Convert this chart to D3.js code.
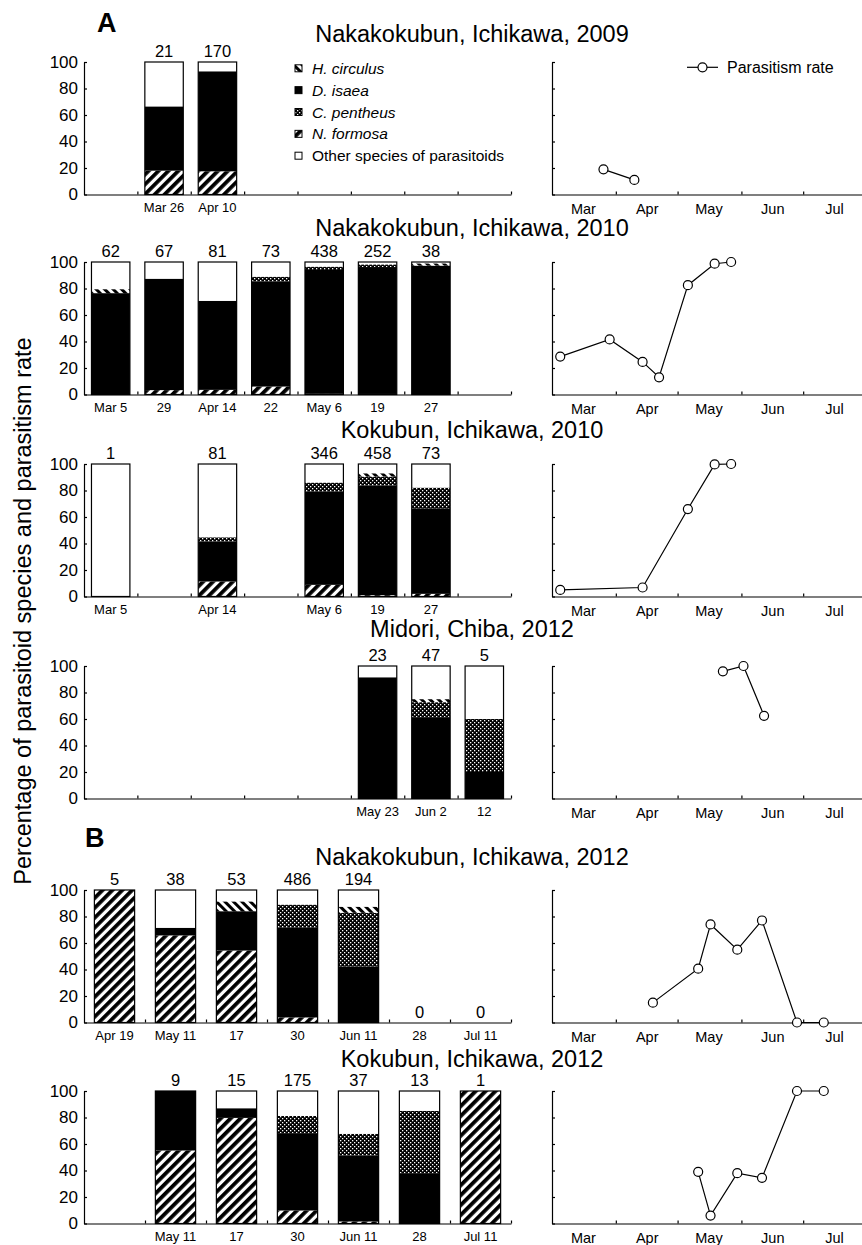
<!DOCTYPE html>
<html>
<head>
<meta charset="utf-8">
<script src="https://cdn.jsdelivr.net/npm/d3@7"></script>
<style>
  body { margin: 0; background: #fff; }
  text { font-family: "Liberation Sans", Arial, sans-serif; fill: #000; }
</style>
</head>
<body>
<svg id="chart" width="862" height="1245"></svg>
<script>
// ---- data ----
var panelTitles = [
	"Nakakokubun, Ichikawa, 2009",
	"Nakakokubun, Ichikawa, 2010",
	"Kokubun, Ichikawa, 2010",
	"Midori, Chiba, 2012",
	"Nakakokubun, Ichikawa, 2012",
	"Kokubun, Ichikawa, 2012"
];

var speciesNames = ["N. formosa", "D. isaea", "C. pentheus", "H. circulus", "Other species of parasitoids"];

// sampling slots of the bar charts ("" = empty slot)
var barLabels = [
	["", "Mar 26", "Apr 10", "", "", "", "", ""],
	["Mar 5", "29", "Apr 14", "22", "May 6", "19", "27", ""],
	["Mar 5", "", "Apr 14", "", "May 6", "19", "27", ""],
	["", "", "", "", "", "May 23", "Jun 2", "12"],
	["Apr 19", "May 11", "17", "30", "Jun 11", "28", "Jul 11"],
	["", "May 11", "17", "30", "Jun 11", "28", "Jul 11"]
];

// number of parasitoids above each bar
var barCounts = [
	[null, 21, 170, null, null, null, null, null],
	[62, 67, 81, 73, 438, 252, 38, null],
	[1, null, 81, null, 346, 458, 73, null],
	[null, null, null, null, null, 23, 47, 5],
	[5, 38, 53, 486, 194, 0, 0],
	[null, 9, 15, 175, 37, 13, 1]
];

// % per bar: N. formosa, D. isaea, C. pentheus, H. circulus, other
var compNak09 = [null, [18, 48.5, 0, 0, 33.5], [17.5, 75.5, 0, 0, 7], null, null, null, null, null];
var compNak10 = [[0, 76.5, 0, 3, 20.5], [3.3, 84.1, 0, 0, 12.6], [3.5, 67.2, 0, 0, 29.3], [6, 79.4, 3.5, 0, 11.1],
	[0.5, 93.5, 2.5, 0, 3.5], [0.4, 95.8, 2, 0, 1.8], [0, 97.3, 0, 1.7, 1], null];
var compKok10 = [[0, 0, 0, 0, 100], null, [11.3, 30.2, 3.2, 0, 55.3], null, [8.8, 70.3, 6.9, 0, 14],
	[1, 82.7, 6.8, 2.5, 7], [2, 64.6, 15.6, 0, 17.8], null];
var compMid12 = [null, null, null, null, null, [0, 91.5, 0, 0, 8.5], [0, 61.4, 11.3, 2.3, 25], [0, 20, 40, 0, 40]];
var compNak12 = [[100, 0, 0, 0, 0], [65.7, 5.8, 0, 0, 28.5], [54.3, 29.7, 0, 7.4, 8.6], [3.8, 67.7, 17.5, 0, 11],
	[0, 42.4, 40.4, 4.6, 12.6], null, null];
var compKok12 = [null, [55.1, 44.9, 0, 0, 0], [79.7, 7.3, 0, 0, 13], [9.8, 58.4, 13, 0, 18.8],
	[1.5, 49.9, 16.3, 0, 32.3], [0, 38, 47, 0, 15], [100, 0, 0, 0, 0]];
var compositions = [compNak09, compNak10, compKok10, compMid12, compNak12, compKok12];

// parasitism rate (%)
var rateDates = [
	["Mar 26", "Apr 10"],
	["Mar 5", "Mar 29", "Apr 14", "Apr 22", "May 6", "May 19", "May 27"],
	["Mar 5", "Apr 14", "May 6", "May 19", "May 27"],
	["May 23", "Jun 2", "Jun 12"],
	["Apr 19", "May 11", "May 17", "May 30", "Jun 11", "Jun 28", "Jul 11"],
	["May 11", "May 17", "May 30", "Jun 11", "Jun 28", "Jul 11"]
];
var rates = [
	[19, 11],
	[28.6, 41.6, 24.6, 13, 82.5, 98.7, 100],
	[5, 6.8, 66, 99.7, 100],
	[96, 100, 62.4],
	[15, 40.6, 74, 55, 77, 0, 0],
	[39, 6, 38, 34.5, 100, 100]
];

var monthStarts = ["Apr 1", "May 1", "Jun 1", "Jul 1", "Aug 1"];
var monthMids = ["Mar 16", "Apr 16", "May 16", "Jun 16", "Jul 16"];
var yTicks = [0, 20, 40, 60, 80, 100];

// ---- layout ----
var plotTop = [62, 262, 464, 666, 890, 1091],
	plotH = 132.5,
	titleY = [42, 236, 438, 637, 865, 1067],
	barX = [84, 511],
	rateX = [552, 867];

var parseDay = d3.timeParse("%b %d");
var svg = d3.select("#chart");
var fills = ["url(#pNF)", "#000", "url(#pCP)", "url(#pHC)", "#fff"];

// patterns
var defs = svg.append("defs");
var pNF = defs.append("pattern").attr("id", "pNF").attr("patternUnits", "userSpaceOnUse")
	.attr("width", 7).attr("height", 7).attr("patternTransform", "rotate(45)");
pNF.append("rect").attr("width", 7).attr("height", 7).attr("fill", "#fff");
pNF.append("rect").attr("width", 3.8).attr("height", 7).attr("fill", "#000");

var pHC = defs.append("pattern").attr("id", "pHC").attr("patternUnits", "userSpaceOnUse")
	.attr("width", 6).attr("height", 6).attr("patternTransform", "rotate(-45)");
pHC.append("rect").attr("width", 6).attr("height", 6).attr("fill", "#fff");
pHC.append("rect").attr("width", 3).attr("height", 6).attr("fill", "#000");

var pCP = defs.append("pattern").attr("id", "pCP").attr("patternUnits", "userSpaceOnUse")
	.attr("width", 4).attr("height", 4);
pCP.append("rect").attr("width", 4).attr("height", 4).attr("fill", "#000");
pCP.append("rect").attr("width", 1.3).attr("height", 1.3).attr("fill", "#fff");
pCP.append("rect").attr("x", 2).attr("y", 2).attr("width", 1.3).attr("height", 1.3).attr("fill", "#fff");

function styleAxis(sel, size) {
	sel.attr("font-family", null).attr("font-size", null);
	sel.selectAll("path, line").attr("stroke", "#000").attr("stroke-width", 1.2);
	sel.selectAll("text").style("font-size", size + "px");
}

panelTitles.forEach(function(title, i) {
	var g = svg.append("g");
	var y = d3.scaleLinear().domain([0, 100]).range([plotTop[i] + plotH, plotTop[i]]);
	var n = barLabels[i].length;
	var pad = n === 8 ? 0.28 : 0.34;
	var x = d3.scaleBand().domain(d3.range(n)).range(barX).paddingInner(pad).paddingOuter(pad / 2);
	var xs = d3.scaleLinear().domain([0, n]).range(barX);

	g.append("text").attr("x", 472).attr("y", titleY[i]).attr("text-anchor", "middle")
		.style("font-size", "23.5px").text(title);

	// stacked bars
	var rows = [];
	compositions[i].forEach(function(c, j) {
		if (c) rows.push({ slot: j, v: c });
	});
	var stack = d3.stack().keys(d3.range(5)).value(function(d, k) { return d.v[k]; });
	var series = stack(rows);

	g.selectAll("g.layer")
		.data(series)
		.enter().append("g")
		.attr("class", "layer")
		.attr("fill", function(d) { return fills[d.key]; })
		.selectAll("rect")
		.data(function(d) { return d; })
		.enter().append("rect")
		.attr("x", function(d) { return x(d.data.slot); })
		.attr("width", x.bandwidth())
		.attr("y", function(d) { return y(d[1]); })
		.attr("height", function(d) { return y(d[0]) - y(d[1]); });

	g.selectAll("rect.outline")
		.data(rows)
		.enter().append("rect")
		.attr("class", "outline")
		.attr("x", function(d) { return x(d.slot); })
		.attr("width", x.bandwidth())
		.attr("y", y(100))
		.attr("height", y(0) - y(100))
		.attr("fill", "none")
		.attr("stroke", "#000")
		.attr("stroke-width", 1.2);

	g.selectAll("text.count")
		.data(barCounts[i].map(function(c, j) { return { slot: j, n: c }; })
			.filter(function(d) { return d.n !== null; }))
		.enter().append("text")
		.attr("class", "count")
		.attr("x", function(d) { return x(d.slot) + x.bandwidth() / 2; })
		.attr("y", function(d) { return (compositions[i][d.slot] ? y(100) : y(0)) - 5; })
		.attr("text-anchor", "middle")
		.style("font-size", "16.5px")
		.text(function(d) { return d.n; });

	// bar chart axes
	g.append("g").attr("transform", "translate(" + barX[0] + ",0)")
		.call(d3.axisLeft(y).tickValues(yTicks).tickSizeInner(-3).tickSizeOuter(0).tickPadding(6))
		.call(styleAxis, 17);

	g.append("g").attr("transform", "translate(0," + y(0) + ")")
		.call(d3.axisBottom(xs).tickValues(d3.range(1, n + 1)).tickSizeInner(-3).tickSizeOuter(0).tickFormat(""))
		.call(styleAxis, 13);

	g.append("g").attr("transform", "translate(0," + y(0) + ")")
		.call(d3.axisBottom(x).tickSize(0).tickPadding(8).tickFormat(function(j) { return barLabels[i][j]; }))
		.call(styleAxis, 13)
		.select(".domain").remove();

	// parasitism rate
	var xt = d3.scaleTime().domain([parseDay("Mar 1"), parseDay("Aug 1")]).range(rateX);
	var pts = rateDates[i].map(function(d, j) { return { date: parseDay(d), rate: rates[i][j] }; });

	g.append("g").attr("transform", "translate(" + rateX[0] + ",0)")
		.call(d3.axisLeft(y).tickValues(yTicks).tickSizeInner(-3).tickSizeOuter(0).tickFormat(""))
		.call(styleAxis, 13);

	g.append("g").attr("transform", "translate(0," + y(0) + ")")
		.call(d3.axisBottom(xt).tickValues(monthStarts.map(parseDay)).tickSizeInner(-3).tickSizeOuter(0).tickFormat(""))
		.call(styleAxis, 13);

	g.append("g").attr("transform", "translate(0," + y(0) + ")")
		.call(d3.axisBottom(xt).tickValues(monthMids.map(parseDay)).tickSize(0).tickPadding(9).tickFormat(d3.timeFormat("%b")))
		.call(styleAxis, 14.5)
		.select(".domain").remove();

	g.append("path")
		.datum(pts)
		.attr("fill", "none")
		.attr("stroke", "#000")
		.attr("stroke-width", 1.2)
		.attr("d", d3.line().x(function(d) { return xt(d.date); }).y(function(d) { return y(d.rate); }));

	g.selectAll("circle")
		.data(pts)
		.enter().append("circle")
		.attr("cx", function(d) { return xt(d.date); })
		.attr("cy", function(d) { return y(d.rate); })
		.attr("r", 4.5)
		.attr("fill", "#fff")
		.attr("stroke", "#000")
		.attr("stroke-width", 1.2);
});

// panel letters
svg.append("text").attr("x", 97).attr("y", 32).style("font-size", "27px").style("font-weight", "bold").text("A");
svg.append("text").attr("x", 85).attr("y", 847).style("font-size", "27px").style("font-weight", "bold").text("B");

// y label
svg.append("text")
	.attr("transform", "translate(31,611) rotate(-90)")
	.attr("text-anchor", "middle")
	.style("font-size", "23.5px")
	.text("Percentage of parasitoid species and parasitism rate");

// species legend
var legendOrder = [3, 1, 2, 0, 4];
var leg = svg.append("g").selectAll("g")
	.data(legendOrder)
	.enter().append("g")
	.attr("transform", function(d, k) { return "translate(295," + (68.3 + k * 21.85) + ")"; });
leg.append("rect").attr("x", 0).attr("y", -3.5).attr("width", 7).attr("height", 7)
	.attr("fill", function(d) { return fills[d]; }).attr("stroke", "#000").attr("stroke-width", 1);
leg.append("text").attr("x", 17).attr("y", 5.5)
	.style("font-size", "15.5px")
	.style("font-style", function(d) { return d === 4 ? "normal" : "italic"; })
	.text(function(d) { return speciesNames[d]; });

// rate legend
var rl = svg.append("g").attr("transform", "translate(687,67.3)");
rl.append("line").attr("x1", 0).attr("x2", 31).attr("stroke", "#000").attr("stroke-width", 1.2);
rl.append("circle").attr("cx", 15.5).attr("r", 4.5).attr("fill", "#fff").attr("stroke", "#000").attr("stroke-width", 1.2);
rl.append("text").attr("x", 40).attr("y", 5.5).style("font-size", "16px").text("Parasitism rate");
</script>
</body>
</html>
